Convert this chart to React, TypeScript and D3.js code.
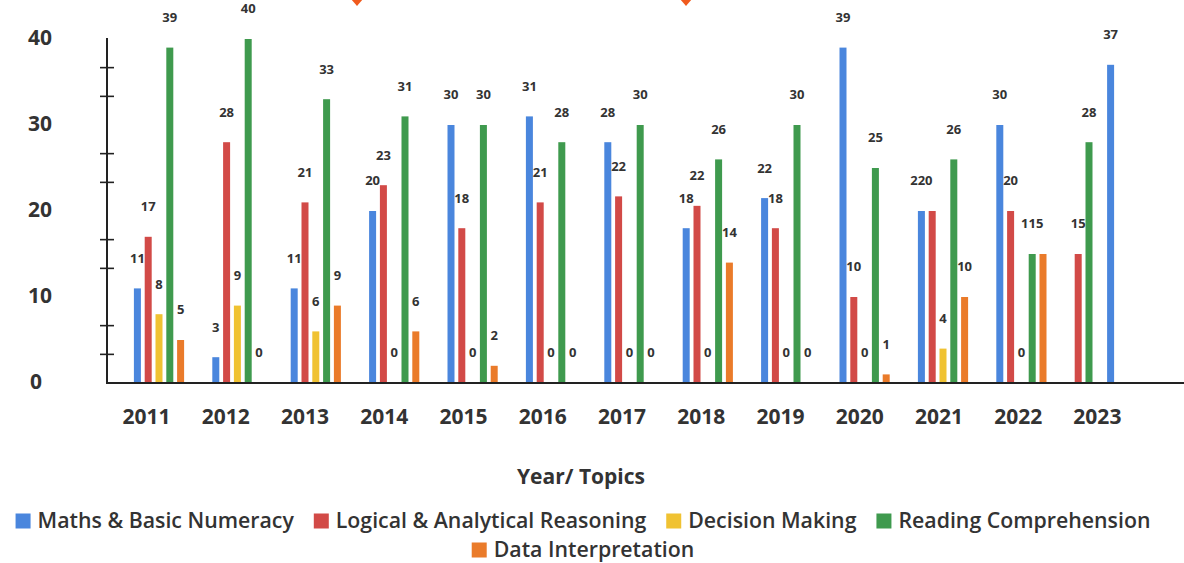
import { useEffect, useRef } from 'react';
import * as d3 from 'd3';

// Years on the x axis
const years = ['2011', '2012', '2013', '2014', '2015', '2016', '2017', '2018', '2019', '2020', '2021', '2022', '2023'];

// Bar values per topic (null = no bar / no label)
const maths = [11, 3, 11, 20, 30, 31, 28, 18, 21.5, 39, 20, 30, 37];
const logical = [17, 28, 21, 23, 18, 21, 21.7, 20.6, 18, 10, 20, 20, 15];
const decision = [8, 9, 6, 0, 0, 0, 0, 0, 0, 0, 4, 0, null];
const reading = [39, 40, 33, 31, 30, 28, 30, 26, 30, 25, 26, 15, 28];
const dataInterp = [5, 0, 9, 6, 2, 0, 0, 14, 0, 1, 10, 15, null];

// Data labels as printed on the chart
const mathsLabels = ['11', '3', '11', '20', '30', '31', '28', '18', '22', '39', '220', '30', '37'];
const logicalLabels = ['17', '28', '21', '23', '18', '21', '22', '22', '18', '10', '', '20', '15'];
const decisionLabels = ['8', '9', '6', '0', '0', '0', '0', '0', '0', '0', '4', '0', ''];
const readingLabels = ['39', '40', '33', '31', '30', '28', '30', '26', '30', '25', '26', '115', '28'];
const dataInterpLabels = ['5', '0', '9', '6', '2', '0', '0', '14', '0', '1', '10', '', ''];

const yTicks = [0, 10, 20, 30, 40];
const yMinorTicks = [3.33, 6.67, 13.33, 16.67, 23.33, 26.67, 33.33, 36.67];

const series = [
  { key: 'maths', name: 'Maths & Basic Numeracy', color: '#4a86dd', values: maths, labels: mathsLabels },
  { key: 'logical', name: 'Logical & Analytical Reasoning', color: '#d24a47', values: logical, labels: logicalLabels },
  { key: 'decision', name: 'Decision Making', color: '#f0c232', values: decision, labels: decisionLabels },
  { key: 'reading', name: 'Reading Comprehension', color: '#3f9a4e', values: reading, labels: readingLabels },
  { key: 'di', name: 'Data Interpretation', color: '#ea7b2a', values: dataInterp, labels: dataInterpLabels },
];

const defaultSlots = ['maths', 'logical', 'decision', 'reading', 'di'];
// 2023 bars are drawn in a different slot order
const slotsByYear: Record<string, string[]> = {
  '2023': ['logical', 'reading', 'decision', 'maths', 'di'],
};

const legendRows = [
  ['maths', 'logical', 'decision', 'reading'],
  ['di'],
];

export default function App() {
  const svgRef = useRef<SVGSVGElement>(null);

  useEffect(() => {
    if (!svgRef.current) return;
    const width = 1184;
    const height = 563;
    const font = '"Open Sans", "DejaVu Sans", sans-serif';
    const textColor = '#333333';

    const svg = d3.select(svgRef.current);
    svg.selectAll('*').remove();
    svg.attr('width', width).attr('height', height);

    svg.append('rect').attr('width', width).attr('height', height).attr('fill', '#fff');

    const y = d3.scaleLinear().domain([0, 40]).range([383, 39]);
    const xAxis = d3.scaleBand().domain(years).range([107, 1137]);
    const xGroup = d3.scaleBand().domain(years).range([132, 132 + 13 * 78.4]);
    const xSlot = d3.scaleBand().domain(['0', '1', '2', '3', '4']).range([0, 54]);
    const barW = 7;

    // decorative orange markers cut off at the top
    [357, 686].forEach(cx => {
      svg.append('path')
        .attr('d', `M${cx - 6},-1 L${cx},6 L${cx + 6},-1 L${cx},-8 Z`)
        .attr('fill', '#f05a1e');
    });

    // y axis
    svg.append('line')
      .attr('x1', 107).attr('x2', 107)
      .attr('y1', 38).attr('y2', 384)
      .attr('stroke', '#222').attr('stroke-width', 2);

    yMinorTicks.forEach(t => {
      svg.append('line')
        .attr('x1', 100).attr('x2', 114)
        .attr('y1', y(t)).attr('y2', y(t))
        .attr('stroke', '#222').attr('stroke-width', 1.6);
    });

    yTicks.forEach(t => {
      svg.append('text')
        .attr('x', t === 0 ? 30 : 28)
        .attr('y', y(t))
        .attr('dominant-baseline', 'middle')
        .attr('font-family', font)
        .attr('font-weight', 700)
        .attr('font-size', 21)
        .attr('fill', textColor)
        .text(t);
    });

    // bars
    const g = svg.append('g');
    years.forEach((yr, i) => {
      const order = slotsByYear[yr] || defaultSlots;
      series.forEach(s => {
        const v = s.values[i];
        if (v === null || v === undefined) return;
        const slot = order.indexOf(s.key);
        const cx = (xGroup(yr) as number) + (xSlot(String(slot)) as number) + xSlot.bandwidth() / 2;
        if (v > 0) {
          g.append('rect')
            .attr('x', cx - barW / 2)
            .attr('y', y(v))
            .attr('width', barW)
            .attr('height', y(0) - y(v))
            .attr('fill', s.color);
        }
        const lbl = s.labels[i];
        if (lbl) {
          g.append('text')
            .attr('x', cx)
            .attr('y', y(v) - 29)
            .attr('text-anchor', 'middle')
            .attr('dominant-baseline', 'middle')
            .attr('font-family', font)
            .attr('font-weight', 700)
            .attr('font-size', 13)
            .attr('fill', textColor)
            .text(lbl);
        }
      });
    });

    // baseline
    svg.append('line')
      .attr('x1', 106).attr('x2', 1184)
      .attr('y1', 383).attr('y2', 383)
      .attr('stroke', '#222').attr('stroke-width', 2);

    // year labels
    years.forEach(yr => {
      svg.append('text')
        .attr('x', (xAxis(yr) as number) + xAxis.bandwidth() / 2)
        .attr('y', 418)
        .attr('text-anchor', 'middle')
        .attr('dominant-baseline', 'middle')
        .attr('font-family', font)
        .attr('font-weight', 700)
        .attr('font-size', 21)
        .attr('fill', textColor)
        .text(yr);
    });

    // axis title
    svg.append('text')
      .attr('x', 581)
      .attr('y', 478)
      .attr('text-anchor', 'middle')
      .attr('dominant-baseline', 'middle')
      .attr('font-family', font)
      .attr('font-weight', 700)
      .attr('font-size', 21)
      .attr('fill', textColor)
      .text('Year/ Topics');

    // legend
    const sq = 15;
    const gapText = 7;
    const gapItem = 20;
    const rowY = [522, 551];
    legendRows.forEach((row, ri) => {
      const rowG = svg.append('g');
      let cursor = 0;
      row.forEach(key => {
        const s = series.find(d => d.key === key)!;
        rowG.append('rect')
          .attr('x', cursor)
          .attr('y', rowY[ri] - sq / 2 - 1)
          .attr('width', sq)
          .attr('height', sq)
          .attr('fill', s.color);
        const t = rowG.append('text')
          .attr('x', cursor + sq + gapText)
          .attr('y', rowY[ri])
          .attr('dominant-baseline', 'middle')
          .attr('font-family', font)
          .attr('font-weight', 600)
          .attr('font-size', 21.3)
          .attr('fill', textColor)
          .text(s.name);
        const w = (t.node() as SVGTextElement).getComputedTextLength();
        cursor += sq + gapText + w + gapItem;
      });
      const total = cursor - gapItem;
      rowG.attr('transform', `translate(${583 - total / 2},0)`);
    });
  }, []);

  return (
    <svg
      ref={svgRef}
      style={{ position: 'absolute', left: 0, top: 0, display: 'block' }}
    />
  );
}
